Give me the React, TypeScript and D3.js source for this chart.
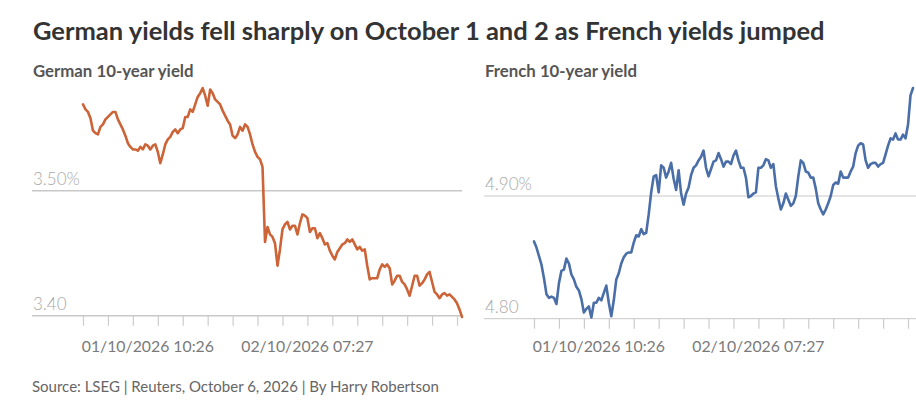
import React, { useEffect, useRef } from "react";
import * as d3 from "d3";

// German 10-year Bund yield, intraday samples (%)
const germanYield = [
  3.569, 3.565, 3.563, 3.558, 3.548, 3.546, 3.545, 3.551, 3.553, 3.557,
  3.559, 3.561, 3.563, 3.563, 3.557, 3.553, 3.549, 3.544, 3.538, 3.535,
  3.533, 3.533, 3.532, 3.535, 3.533, 3.537, 3.536, 3.533, 3.536, 3.537,
  3.531, 3.522, 3.529, 3.537, 3.541, 3.543, 3.547, 3.549, 3.546, 3.549,
  3.550, 3.559, 3.559, 3.565, 3.563, 3.569, 3.575, 3.578, 3.582, 3.576,
  3.568, 3.581, 3.578, 3.573, 3.571, 3.569, 3.564, 3.560, 3.556, 3.553,
  3.544, 3.542, 3.545, 3.551, 3.548, 3.553, 3.551, 3.545, 3.537, 3.531,
  3.527, 3.525, 3.519, 3.459, 3.471, 3.465, 3.463, 3.458, 3.440, 3.453,
  3.469, 3.473, 3.475, 3.469, 3.472, 3.472, 3.465, 3.474, 3.481, 3.480,
  3.478, 3.467, 3.470, 3.470, 3.462, 3.466, 3.462, 3.457, 3.458, 3.452,
  3.448, 3.445, 3.451, 3.454, 3.457, 3.458, 3.461, 3.459, 3.461, 3.457,
  3.453, 3.455, 3.452, 3.453, 3.440, 3.429, 3.430, 3.430, 3.430, 3.437,
  3.441, 3.439, 3.441, 3.438, 3.425, 3.428, 3.432, 3.432, 3.427, 3.425,
  3.421, 3.416, 3.424, 3.432, 3.432, 3.424, 3.426, 3.429, 3.433, 3.435,
  3.427, 3.419, 3.417, 3.414, 3.417, 3.418, 3.416, 3.417, 3.415, 3.413,
  3.410, 3.405, 3.399,
];

// French 10-year OAT yield, same timestamps (%)
const frenchYield = [
  4.863, 4.858, 4.851, 4.844, 4.833, 4.820, 4.817, 4.818, 4.817, 4.812,
  4.829, 4.839, 4.840, 4.849, 4.845, 4.836, 4.832, 4.826, 4.823, 4.816,
  4.805, 4.808, 4.810, 4.801, 4.813, 4.813, 4.817, 4.815, 4.821, 4.827,
  4.813, 4.802, 4.815, 4.832, 4.837, 4.845, 4.850, 4.853, 4.854, 4.854,
  4.862, 4.868, 4.867, 4.873, 4.869, 4.870, 4.885, 4.903, 4.916, 4.917,
  4.903, 4.925, 4.923, 4.915, 4.920, 4.927, 4.914, 4.905, 4.921, 4.902,
  4.893, 4.902, 4.907, 4.917, 4.923, 4.925, 4.929, 4.932, 4.937, 4.923,
  4.916, 4.922, 4.928, 4.929, 4.935, 4.930, 4.924, 4.928, 4.928, 4.926,
  4.933, 4.937, 4.929, 4.923, 4.923, 4.915, 4.899, 4.900, 4.902, 4.903,
  4.923, 4.923, 4.925, 4.930, 4.929, 4.923, 4.926, 4.908, 4.898, 4.889,
  4.894, 4.902, 4.897, 4.892, 4.894, 4.900, 4.916, 4.929, 4.927, 4.920,
  4.919, 4.915, 4.915, 4.906, 4.894, 4.889, 4.885, 4.889, 4.894, 4.900,
  4.909, 4.911, 4.910, 4.920, 4.915, 4.915, 4.915, 4.920, 4.924, 4.935,
  4.941, 4.943, 4.942, 4.929, 4.923, 4.926, 4.927, 4.927, 4.924, 4.926,
  4.927, 4.934, 4.941, 4.947, 4.946, 4.951, 4.946, 4.946, 4.950, 4.947,
  4.958, 4.982, 4.988,
];

const germanTicks = [3.4, 3.5];
const germanTickLabels = ["3.40", "3.50%"];
const frenchTicks = [4.8, 4.9];
const frenchTickLabels = ["4.80", "4.90%"];

// sample index of each dated label, and every 10th sample gets a tick mark
const dateLabels = ["01/10/2026 10:26", "02/10/2026 07:27"];
const dateLabelIndex = [26, 90];
const tickIndex = d3.range(0, 151, 10);

const FONT = "Lato, 'Noto Sans', sans-serif";

type PanelProps = {
  title: string;
  values: number[];
  ticks: number[];
  tickLabels: string[];
  color: string;
  left: number;
  gridLeft: number;
  gridRight: number;
  yTop: number;
  yBottom: number;
  gridWidth: number;
};

const Panel = ({
  title,
  values,
  ticks,
  tickLabels,
  color,
  left,
  gridLeft,
  gridRight,
  yTop,
  yBottom,
  gridWidth,
}: PanelProps) => {
  const axisRef = useRef<SVGGElement>(null);

  const x = d3
    .scaleLinear()
    .domain([0, values.length - 1])
    .range([left, left + 379]);

  const y = d3.scaleLinear().domain([ticks[0], ticks[1]]).range([yBottom, yTop]);

  const line = d3
    .line<number>()
    .x((d, i) => x(i))
    .y((d) => y(d))
    .curve(d3.curveLinear);

  useEffect(() => {
    const g = d3.select(axisRef.current);
    g.selectAll("*").remove();
    g.call(
      d3
        .axisBottom(x)
        .tickValues(tickIndex)
        .tickSize(10)
        .tickSizeOuter(0)
        .tickFormat(() => "")
    );
    g.select(".domain").remove();
    g.selectAll(".tick line").attr("stroke", "#cccccc").attr("stroke-width", 1.2);
  }, [values]);

  return (
    <g>
      <text
        x={gridLeft + 1}
        y={77}
        fontFamily={FONT}
        fontWeight={700}
        fontSize={16.8}
        fill="#555555"
      >
        {title}
      </text>
      {ticks.map((t, i) => (
        <g key={t}>
          <line
            x1={gridLeft}
            x2={gridRight}
            y1={y(t)}
            y2={y(t)}
            stroke="#c8c8c8"
            strokeWidth={gridWidth}
          />
          <text
            x={gridLeft + 1}
            y={y(t) - 6}
            fontFamily={FONT}
            fontWeight={300}
            fontSize={17}
            fill="#a8a8a8"
          >
            {tickLabels[i]}
          </text>
        </g>
      ))}
      <g ref={axisRef} transform={`translate(0, ${y(ticks[0])})`} />
      {dateLabels.map((label, i) => (
        <text
          key={label}
          x={x(dateLabelIndex[i])}
          y={352}
          textAnchor="middle"
          fontFamily={FONT}
          fontSize={15.8}
          fill="#7a7a7a"
        >
          {label}
        </text>
      ))}
      <path
        d={line(values) ?? ""}
        fill="none"
        stroke={color}
        strokeWidth={2.6}
        strokeLinejoin="round"
        strokeLinecap="round"
      />
    </g>
  );
};

const App = () => {
  return (
    <svg
      width={916}
      height={403}
      style={{ position: "absolute", left: 0, top: 0, background: "#ffffff" }}
    >
      <text
        x={33}
        y={40}
        fontFamily={FONT}
        fontWeight={700}
        fontSize={25.5}
        fill="#333333"
      >
        German yields fell sharply on October 1 and 2 as French yields jumped
      </text>
      <Panel
        title="German 10-year yield"
        values={germanYield}
        ticks={germanTicks}
        tickLabels={germanTickLabels}
        color="#cc6438"
        left={83}
        gridLeft={32}
        gridRight={462}
        yTop={190.7}
        yBottom={315.7}
        gridWidth={1.6}
      />
      <Panel
        title="French 10-year yield"
        values={frenchYield}
        ticks={frenchTicks}
        tickLabels={frenchTickLabels}
        color="#4a6ea8"
        left={534}
        gridLeft={484}
        gridRight={916}
        yTop={196}
        yBottom={318.7}
        gridWidth={1}
      />
      <text x={32} y={392} fontFamily={FONT} fontSize={15} fill="#666666">
        Source: LSEG | Reuters, October 6, 2026 | By Harry Robertson
      </text>
    </svg>
  );
};

export default App;
